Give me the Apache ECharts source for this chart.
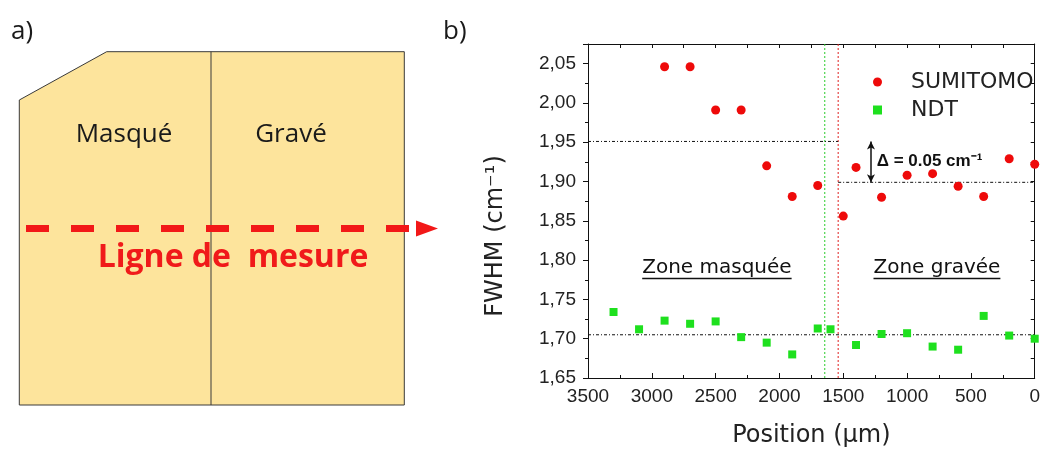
<!DOCTYPE html>
<html>
<head>
<meta charset="utf-8">
<script src="https://cdn.jsdelivr.net/npm/echarts@6/dist/echarts.min.js"></script>
<style>
html,body{margin:0;padding:0;background:#fff;}
#chart{width:1043px;height:455px;}
</style>
</head>
<body>
<div id="chart"></div>
<script>
// ---- data ----
const positionsSumitomo = [2900, 2700, 2500, 2300, 2100, 1900, 1700, 1500, 1400, 1200, 1000, 800, 600, 400, 200, 0];
const fwhmSumitomo      = [2.046, 2.046, 1.991, 1.991, 1.920, 1.881, 1.895, 1.856, 1.918, 1.880, 1.908, 1.910, 1.894, 1.881, 1.929, 1.922];
const positionsNdt = [3300, 3100, 2900, 2700, 2500, 2300, 2100, 1900, 1700, 1600, 1400, 1200, 1000, 800, 600, 400, 200, 0];
const fwhmNdt      = [1.734, 1.712, 1.723, 1.719, 1.722, 1.702, 1.695, 1.680, 1.713, 1.712, 1.692, 1.706, 1.707, 1.690, 1.686, 1.729, 1.704, 1.700];
const seriesNames = ['SUMITOMO', 'NDT'];
const xTicks = [0, 500, 1000, 1500, 2000, 2500, 3000, 3500];
const yTicks = [1.65, 1.70, 1.75, 1.80, 1.85, 1.90, 1.95, 2.00, 2.05];
const yMin = 1.65, yMax = 2.075;
// reference lines
const maskedLevel = 1.951;
const etchedLevel = 1.899;
const ndtLevel = 1.705;
const sumitomoBoundary = 1540;
const ndtBoundary = 1645;
const deltaArrowX = 1283;
const deltaText = 'Δ = 0.05 cm⁻¹';
const deltaTextPos = [1238, 1.926];
const zoneLabels = [
  { text: 'Zone masquée', x: 2490, y: 1.79 },
  { text: 'Zone gravée', x: 766, y: 1.79 }
];

const chart = echarts.init(document.getElementById('chart'), null, { renderer: 'canvas' });

const axisBlack = { color: '#111', width: 1 };
const TICK_FONT = 'Liberation Sans';
const TITLE_FONT = 'DejaVu Sans';
const dashDot = [3, 2, 1, 2];

const leftPanel = [
  { type: 'polygon', shape: { points: [[19.3, 100], [106.7, 51.7], [404.3, 51.7], [404.3, 405], [19.3, 405]] },
    style: { fill: '#fde49c', stroke: '#3a3a3a', lineWidth: 1 } },
  { type: 'line', shape: { x1: 211, y1: 51.7, x2: 211, y2: 405 }, style: { stroke: '#3a3a3a', lineWidth: 1 } },
  { type: 'text', x: 11, y: 32, style: { text: 'a)', font: '26px "Open Sans"', fill: '#1a1a1a', verticalAlign: 'middle' } },
  { type: 'text', x: 443, y: 32, style: { text: 'b)', font: '26px "Open Sans"', fill: '#1a1a1a', verticalAlign: 'middle' } },
  { type: 'text', x: 124, y: 135, style: { text: 'Masqué', font: '26px "Open Sans"', fill: '#1a1a1a', align: 'center', verticalAlign: 'middle' } },
  { type: 'text', x: 291, y: 135, style: { text: 'Gravé', font: '26px "Open Sans"', fill: '#1a1a1a', align: 'center', verticalAlign: 'middle' } },
  { type: 'line', shape: { x1: 26, y1: 228.5, x2: 412, y2: 228.5 }, style: { stroke: '#f21818', lineWidth: 7, lineDash: [23, 22] } },
  { type: 'polygon', shape: { points: [[416, 220.5], [416, 236.5], [438, 228.5]] }, style: { fill: '#f21818' } },
  { type: 'text', x: 233, y: 258, style: { text: 'Ligne de  mesure', font: 'bold 32px "Open Sans"', fill: '#f01a1a', align: 'center', verticalAlign: 'middle' } }
];

const refLine = (name, pts, color, type, width) => ({
  name, type: 'line', xAxisIndex: 0, yAxisIndex: 0, data: pts, symbol: 'none', silent: true,
  animation: false, z: 3, lineStyle: { color, type, width }, itemStyle: { color }
});

const option = {
  animation: false,
  backgroundColor: '#ffffff',
  grid: { left: 588, right: 2, top: 44, bottom: 77, containLabel: false },
  legend: {
    data: seriesNames,
    orient: 'vertical',
    left: 868,
    top: 66,
    itemWidth: 9,
    itemHeight: 9,
    itemGap: 6,
    formatter: name => '{g|}{t|' + name + '}',
    textStyle: {
      fontFamily: TITLE_FONT, fontSize: 22, color: '#222',
      rich: {
        g: { width: 24 },
        t: { fontFamily: TITLE_FONT, fontSize: 22, color: '#222' }
      }
    }
  },
  xAxis: [
    {
      type: 'value', position: 'bottom', min: 0, max: 3500, interval: 500, inverse: true,
      axisLine: { show: true, onZero: false, lineStyle: axisBlack },
      axisTick: { show: true, inside: true, length: 5, lineStyle: axisBlack },
      minorTick: { show: true, splitNumber: 2, length: 3, lineStyle: axisBlack },
      splitLine: { show: false },
      axisLabel: { margin: 9, fontFamily: TICK_FONT, fontSize: 19, color: '#222',
        formatter: v => xTicks.includes(v) ? String(v) : '' },
      name: 'Position (µm)', nameLocation: 'middle', nameGap: 46,
      nameTextStyle: { fontFamily: TITLE_FONT, fontSize: 24, color: '#222' }
    },
    {
      type: 'value', position: 'top', min: 0, max: 3500, interval: 250, inverse: true,
      axisLine: { show: true, onZero: false, lineStyle: axisBlack },
      axisTick: { show: true, inside: true, length: 4, lineStyle: axisBlack },
      axisLabel: { show: false }, splitLine: { show: false }
    }
  ],
  yAxis: [
    {
      type: 'value', position: 'left', min: yMin, max: yMax, interval: 0.05,
      axisLine: { show: true, onZero: false, lineStyle: axisBlack },
      axisTick: { show: true, inside: false, length: 5, lineStyle: axisBlack },
      minorTick: { show: true, splitNumber: 2, length: 3, lineStyle: axisBlack },
      splitLine: { show: false },
      axisLabel: { margin: 12, fontFamily: TICK_FONT, fontSize: 19, color: '#222', showMaxLabel: false,
        formatter: v => yTicks.some(t => Math.abs(t - v) < 1e-6) ? v.toFixed(2).replace('.', ',') : '' },
      name: 'FWHM (cm⁻¹)', nameLocation: 'middle', nameGap: 80,
      nameTextStyle: { fontFamily: TITLE_FONT, fontSize: 24, color: '#222', padding: [0, 50, 0, 0] }
    },
    {
      type: 'value', position: 'right', min: yMin, max: yMax, interval: 0.025,
      axisLine: { show: true, onZero: false, lineStyle: axisBlack },
      axisTick: { show: true, inside: true, length: 4, lineStyle: axisBlack },
      axisLabel: { show: false }, splitLine: { show: false }
    }
  ],
  series: [
    refLine('ndtBoundary', [[ndtBoundary, yMin], [ndtBoundary, yMax]], '#2ccc2c', [2, 2], 1),
    refLine('sumitomoBoundary', [[sumitomoBoundary, yMin], [sumitomoBoundary, yMax]], '#e02020', [2, 2], 1),
    refLine('maskedLevel', [[3500, maskedLevel], [sumitomoBoundary, maskedLevel]], '#111', dashDot, 1),
    refLine('etchedLevel', [[sumitomoBoundary, etchedLevel], [0, etchedLevel]], '#111', dashDot, 1),
    refLine('ndtLevel', [[3500, ndtLevel], [0, ndtLevel]], '#111', dashDot, 1),
    {
      name: seriesNames[0], type: 'scatter', xAxisIndex: 0, yAxisIndex: 0,
      symbol: 'circle', symbolSize: 9,
      itemStyle: { color: '#ee0a0a', opacity: 1 },
      data: positionsSumitomo.map((x, i) => [x, fwhmSumitomo[i]]),
      z: 5
    },
    {
      name: seriesNames[1], type: 'scatter', xAxisIndex: 0, yAxisIndex: 0,
      symbol: 'rect', symbolSize: 8,
      itemStyle: { color: '#1ee01e', opacity: 1 },
      data: positionsNdt.map((x, i) => [x, fwhmNdt[i]]),
      z: 5
    },
    {
      name: 'deltaArrow', type: 'line', xAxisIndex: 0, yAxisIndex: 0, data: [], silent: true,
      markLine: {
        silent: true, symbol: ['arrow', 'arrow'], symbolSize: [6, 8], label: { show: false }, animation: false,
        lineStyle: { color: '#111', type: 'solid', width: 1.5 },
        data: [ [ { coord: [deltaArrowX, maskedLevel] }, { coord: [deltaArrowX, etchedLevel] } ] ]
      }
    }
  ],
  graphic: leftPanel
};

chart.setOption(option);

// annotations placed from data coordinates
const measure = (() => {
  const c = document.createElement('canvas').getContext('2d');
  return (txt, font) => { c.font = font; return c.measureText(txt).width; };
})();
const annotations = [];
const zoneFont = '20px "DejaVu Sans"';
zoneLabels.forEach(z => {
  const p = chart.convertToPixel({ xAxisIndex: 0, yAxisIndex: 0 }, [z.x, z.y]);
  const w = measure(z.text, zoneFont);
  annotations.push({ type: 'text', x: p[0], y: p[1], style: { text: z.text, font: zoneFont, fill: '#111', align: 'center', verticalAlign: 'middle' } });
  annotations.push({ type: 'line', shape: { x1: p[0] - w / 2, y1: p[1] + 10.5, x2: p[0] + w / 2, y2: p[1] + 10.5 }, style: { stroke: '#111', lineWidth: 1.5 } });
});
const dp = chart.convertToPixel({ xAxisIndex: 0, yAxisIndex: 0 }, deltaTextPos);
annotations.push({ type: 'text', x: dp[0], y: dp[1], style: { text: deltaText, font: 'bold 17px "Liberation Sans"', fill: '#111', align: 'left', verticalAlign: 'middle' } });

chart.setOption({ graphic: leftPanel.concat(annotations) });
</script>
</body>
</html>
